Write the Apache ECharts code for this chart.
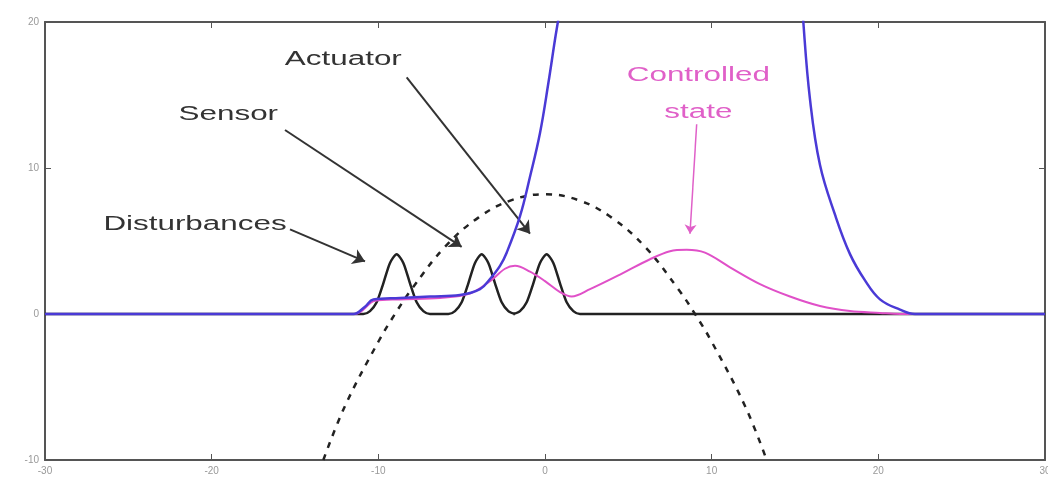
<!DOCTYPE html>
<html>
<head>
<meta charset="utf-8">
<script src="https://cdn.jsdelivr.net/npm/echarts@6/dist/echarts.min.js"></script>
<style>html,body{margin:0;padding:0;background:#fff}#c{width:1048px;height:478px}</style>
</head>
<body>
<div id="c"></div>
<script>
// x ticks and y ticks
const xTicks = [-30, -20, -10, 0, 10, 20, 30];
const yTicks = [-10, 0, 10, 20];

// Blue curve (unstable state)
const blueX = [-30, -12, -11.5, -10.8, -10.3, -8.7, -6.9, -5.1, -3.9, -3.3, -2.7, -2.3, -1.5, -0.9, -0.3, 0.2, 0.6, 0.8, 1.1, 1.5, 2.0, 14.7, 15.1, 15.5, 15.9, 16.5, 17.4, 18.3, 19.2, 20.1, 21.3, 22.2, 30];
const blueY = [0, 0, 0, 0.5, 1.0, 1.1, 1.2, 1.3, 1.7, 2.4, 3.3, 4.2, 6.7, 9.4, 12.4, 15.8, 18.8, 20.2, 22.5, 28, 40, 40, 27, 20, 14.7, 10.2, 6.8, 4.1, 2.3, 1.0, 0.3, 0, 0];

// Pink curve (controlled state)
const pinkX = [-30, -11.4, -10.2, -8.7, -6.3, -4.5, -3.3, -2.4, -1.8, -0.9, 0, 0.9, 1.6, 2.7, 4.5, 6.3, 7.5, 8.5, 9.6, 11.1, 12.9, 14.7, 16.5, 18.3, 20.1, 21.3, 30];
const pinkY = [0, 0, 0.9, 1.0, 1.1, 1.4, 2.25, 3.1, 3.3, 2.9, 2.25, 1.5, 1.2, 1.7, 2.7, 3.75, 4.3, 4.4, 4.2, 3.2, 2.05, 1.2, 0.55, 0.2, 0.07, 0, 0];

// Black solid curve (disturbances / sensor / actuator bumps)
const bumpX = [-30, -10.9, -10.5, -10.1, -9.7, -9.3, -8.9, -8.5, -8.1, -7.7, -7.3, -6.9, -5.8, -5.4, -5.0, -4.6, -4.2, -3.8, -3.4, -3.0, -2.6, -2.2, -1.8, -1.9, -1.5, -1.1, -0.7, -0.3, 0.1, 0.5, 0.9, 1.3, 1.7, 2.1, 30];
const bumpY = [0, 0, 0.2, 0.8, 2.1, 3.5, 4.1, 3.5, 2.1, 0.8, 0.2, 0, 0, 0.2, 0.8, 2.1, 3.5, 4.1, 3.5, 2.1, 0.8, 0.2, 0, 0, 0.2, 0.8, 2.1, 3.5, 4.1, 3.5, 2.1, 0.8, 0.2, 0, 0];

// Black dashed parabola
const dashX = [-13.3, -12, -10, -9, -8, -6, -4, -2, 0, 2, 4, 6, 8, 9, 10, 12, 13.3];
const dashY = [-10, -6.3, -1.9, 0.0, 1.7, 4.6, 6.6, 7.8, 8.2, 7.8, 6.6, 4.6, 1.7, 0.0, -1.9, -6.3, -10];

// Annotations: [label, textX, textY, arrowFromX, arrowFromY, arrowToX, arrowToY]
const notes = [
  ['Actuator', -12.1, 17.4, -8.3, 16.2, -0.9, 5.5],
  ['Sensor', -19.0, 13.65, -15.6, 12.6, -5.0, 4.6],
  ['Disturbances', -21.0, 6.1, -15.3, 5.8, -10.8, 3.6]
];
const ctrlNote = ['Controlled\nstate', 9.2, 15.1, 9.1, 13.0, 8.7, 5.5];

const zip = (xs, ys) => xs.map((x, i) => [x, ys[i]]);

const chart = echarts.init(document.getElementById('c'));
const lineSt = { color: '#555', width: 2 };
const tickSt = { show: true, inside: true, length: 6, lineStyle: { color: '#555' } };
const axisCommon = {
  type: 'value', min: -30, max: 30, interval: 10,
  axisLine: { show: true, onZero: false, lineStyle: lineSt },
  axisTick: tickSt, splitLine: { show: false }
};
const yCommon = {
  type: 'value', min: -10, max: 20, interval: 10,
  axisLine: { show: true, onZero: false, lineStyle: lineSt },
  axisTick: tickSt, splitLine: { show: false }
};
const lbl = { color: '#999', fontSize: 10, fontFamily: 'Liberation Sans' };

const arrowLines = notes.map(n => [{ coord: [n[3], n[4]] }, { coord: [n[5], n[6]] }]);

chart.setOption({
  animation: false,
  backgroundColor: '#fff',
  grid: { left: 45, right: 3, top: 22, bottom: 18, show: false, containLabel: false, outerBoundsMode: 'none' },
  xAxis: [
    Object.assign({}, axisCommon, { position: 'bottom', axisLabel: Object.assign({ margin: 6, formatter: v => xTicks.includes(v) ? String(v) : '' }, lbl) }),
    Object.assign({}, axisCommon, { position: 'top', axisLabel: { show: false } })
  ],
  yAxis: [
    Object.assign({}, yCommon, { position: 'left', axisLabel: Object.assign({ margin: 6, formatter: v => yTicks.includes(v) ? String(v) : '' }, lbl) }),
    Object.assign({}, yCommon, { position: 'right', axisLabel: { show: false } })
  ],
  series: [
    {
      type: 'line', data: zip(dashX, dashY), smooth: 0.4, showSymbol: false, clip: true,
      lineStyle: { color: '#222', width: 2.5, type: [6, 7] }, z: 2
    },
    {
      type: 'line', data: zip(bumpX, bumpY), smooth: 0.25, showSymbol: false, clip: true,
      lineStyle: { color: '#222', width: 2.5 }, z: 3,
      markLine: {
        silent: true, symbol: ['none', 'arrow'], symbolSize: 12,
        lineStyle: { color: '#333', width: 2, type: 'solid' },
        itemStyle: { color: '#333' },
        label: { show: false },
        data: arrowLines
      }
    },
    {
      type: 'line', data: zip(pinkX, pinkY), smooth: 0.35, showSymbol: false, clip: true,
      lineStyle: { color: '#e050c8', width: 2 }, z: 4,
      markLine: {
        silent: true, symbol: ['none', 'arrow'], symbolSize: 9,
        lineStyle: { color: '#e060c8', width: 1.5, type: 'solid' },
        itemStyle: { color: '#e060c8' },
        label: { show: false },
        data: [[{ coord: [ctrlNote[3], ctrlNote[4]] }, { coord: [ctrlNote[5], ctrlNote[6]] }]]
      }
    },
    {
      type: 'line', data: zip(blueX, blueY), smooth: 0.4, showSymbol: false, clip: true,
      lineStyle: { color: '#4a3ad6', width: 2.5 }, z: 5
    }
  ]
});

// text annotations placed at data coordinates
const SX = 1.57;
const g = notes.map(n => {
  const p = chart.convertToPixel({ xAxisIndex: 0, yAxisIndex: 0 }, [n[1], n[2]]);
  return { type: 'text', x: p[0], y: p[1], scaleX: SX, style: { text: n[0], fill: '#333', font: '20px "Liberation Sans"', align: 'center', verticalAlign: 'middle' }, z: 10 };
});
const pc = chart.convertToPixel({ xAxisIndex: 0, yAxisIndex: 0 }, [ctrlNote[1], ctrlNote[2]]);
g.push({ type: 'text', x: pc[0], y: pc[1], scaleX: SX, style: { text: ctrlNote[0], fill: '#e060c8', font: '20px "Liberation Sans"', align: 'center', verticalAlign: 'middle', lineHeight: 37 }, z: 10 });
chart.setOption({ graphic: g });
</script>
</body>
</html>
